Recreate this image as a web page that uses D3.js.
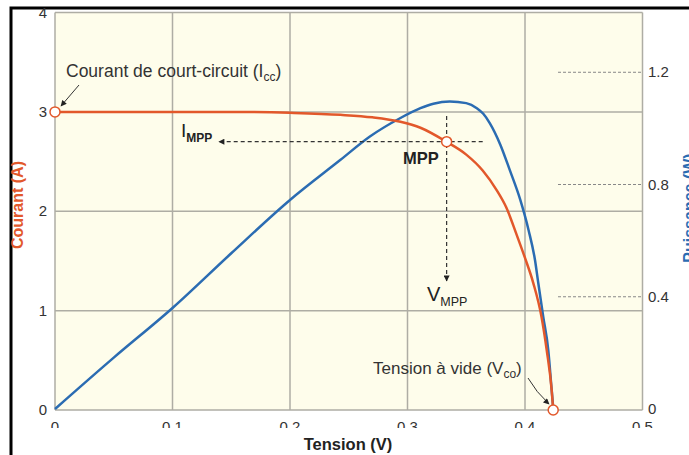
<!DOCTYPE html>
<html>
<head>
<meta charset="utf-8">
<script src="https://cdn.jsdelivr.net/npm/d3@7"></script>
<style>
  body { margin: 0; background: #fff; }
  text { font-family: "Liberation Sans", Arial, sans-serif; }
</style>
</head>
<body>
<script>
// courbe I-V
const courantV = [0, 0.05, 0.10, 0.15, 0.20, 0.243, 0.27, 0.294, 0.311, 0.333, 0.350, 0.364, 0.376, 0.384, 0.393, 0.400, 0.407, 0.414, 0.4185, 0.4227, 0.424];
const courantA = [3.0, 3.0, 3.0, 3.0, 2.99, 2.97, 2.945, 2.90, 2.84, 2.70, 2.57, 2.41, 2.21, 2.04, 1.76, 1.53, 1.28, 0.94, 0.60, 0.20, 0];

// courbe P-V
const puissanceV = [0, 0.05, 0.10, 0.15, 0.20, 0.243, 0.268, 0.294, 0.311, 0.322, 0.336, 0.350, 0.359, 0.3645, 0.370, 0.379, 0.387, 0.396, 0.403, 0.4085, 0.4113, 0.4155, 0.4198, 0.4227, 0.4241];
const puissanceW = [0, 0.183, 0.36, 0.555, 0.745, 0.888, 0.971, 1.037, 1.072, 1.088, 1.096, 1.090, 1.072, 1.052, 1.019, 0.942, 0.852, 0.745, 0.638, 0.531, 0.449, 0.329, 0.21, 0.068, 0];

// points remarquables
const pointIcc = [0, 3.0];
const pointMpp = [0.3333, 2.70];
const pointVco = [0.424, 0];

const xTicks = [0, 0.1, 0.2, 0.3, 0.4, 0.5];
const yTicks = [0, 1, 2, 3, 4];
const pTicks = [0, 0.4, 0.8, 1.2];

const W = 689, H = 455;
const orange = "#e2582b", bleu = "#2b6cb2", grille = "#aeada4";

const x = d3.scaleLinear().domain([0, 0.5]).range([55, 642.5]);
const y = d3.scaleLinear().domain([0, 4]).range([410, 12.5]);
const yP = d3.scaleLinear().domain([0, 1.413]).range([409, 12.5]);

const svg = d3.select("body").append("svg")
    .attr("width", W)
    .attr("height", H);

const defs = svg.append("defs");
defs.append("marker")
    .attr("id", "fleche")
    .attr("viewBox", "0 0 10 10")
    .attr("refX", 9).attr("refY", 5)
    .attr("markerWidth", 7).attr("markerHeight", 6)
    .attr("markerUnits", "userSpaceOnUse")
    .attr("orient", "auto")
  .append("path")
    .attr("d", "M0,0L10,5L0,10Z")
    .attr("fill", "#222");
defs.append("clipPath").attr("id", "coupe")
  .append("rect").attr("x", 0).attr("y", 0).attr("width", W).attr("height", 428);

// cadre noir
svg.append("path")
    .attr("d", `M11,${H}V8H${W}`)
    .attr("fill", "none")
    .attr("stroke", "#000")
    .attr("stroke-width", 3);

// fond de la zone de tracé
svg.append("rect")
    .attr("x", x(0)).attr("y", y(4))
    .attr("width", x(0.5) - x(0)).attr("height", y(0) - y(4))
    .attr("fill", "#fefdeb");

// grille
svg.append("g").selectAll("line").data(xTicks).join("line")
    .attr("x1", d => x(d)).attr("x2", d => x(d))
    .attr("y1", y(0)).attr("y2", y(4))
    .attr("stroke", grille).attr("stroke-width", 1.5);
svg.append("g").selectAll("line").data(yTicks).join("line")
    .attr("x1", x(0)).attr("x2", x(0.5))
    .attr("y1", d => y(d)).attr("y2", d => y(d))
    .attr("stroke", grille).attr("stroke-width", 1.5);

// axe gauche
svg.append("g").selectAll("text").data(yTicks).join("text")
    .attr("x", 47).attr("y", d => y(d) + 5)
    .attr("text-anchor", "end")
    .attr("font-size", 15).attr("fill", "#333")
    .text(d => d);

// axe du bas (étiquettes coupées en bas comme sur l'original)
svg.append("g").attr("clip-path", "url(#coupe)")
  .selectAll("text").data(xTicks).join("text")
    .attr("x", d => x(d)).attr("y", 432)
    .attr("text-anchor", "middle")
    .attr("font-size", 15).attr("fill", "#333")
    .text(d => d);

// axe droit
const gP = svg.append("g");
gP.selectAll("line").data(pTicks.filter(d => d > 0)).join("line")
    .attr("x1", 558).attr("x2", x(0.5))
    .attr("y1", d => yP(d)).attr("y2", d => yP(d))
    .attr("stroke", "#888").attr("stroke-width", 1)
    .attr("stroke-dasharray", "3,2");
gP.selectAll("text").data(pTicks).join("text")
    .attr("x", 648).attr("y", d => yP(d) + 5)
    .attr("font-size", 15).attr("fill", "#333")
    .text(d => d);

// titres des axes
svg.append("text")
    .attr("transform", "translate(23,205) rotate(-90)")
    .attr("text-anchor", "middle")
    .attr("font-size", 16).attr("font-weight", "bold")
    .attr("fill", orange)
    .text("Courant (A)");
svg.append("text")
    .attr("transform", "translate(695,208) rotate(-90)")
    .attr("text-anchor", "middle")
    .attr("font-size", 16).attr("font-weight", "bold")
    .attr("fill", bleu)
    .text("Puissance (W)");
svg.append("text")
    .attr("x", 348).attr("y", 450)
    .attr("text-anchor", "middle")
    .attr("font-size", 16.5).attr("font-weight", "bold")
    .attr("fill", "#222")
    .text("Tension (V)");

// courbes
const courbeI = d3.line()
    .x(d => x(d[0]))
    .y(d => y(d[1]))
    .curve(d3.curveMonotoneX);
const courbeP = d3.line()
    .x(d => x(d[0]))
    .y(d => yP(d[1]))
    .curve(d3.curveMonotoneX);

svg.append("path")
    .datum(d3.zip(puissanceV, puissanceW))
    .attr("d", courbeP)
    .attr("fill", "none").attr("stroke", bleu).attr("stroke-width", 2.5);
svg.append("path")
    .datum(d3.zip(courantV, courantA))
    .attr("d", courbeI)
    .attr("fill", "none").attr("stroke", orange).attr("stroke-width", 2.5);

// lignes pointillées du MPP
const gMpp = svg.append("g")
    .attr("fill", "none").attr("stroke", "#333")
    .attr("stroke-width", 1.2).attr("stroke-dasharray", "4,3");
gMpp.append("line")
    .attr("x1", x(0.364)).attr("x2", 219)
    .attr("y1", y(pointMpp[1])).attr("y2", y(pointMpp[1]))
    .attr("marker-end", "url(#fleche)");
gMpp.append("line")
    .attr("x1", x(pointMpp[0])).attr("x2", x(pointMpp[0]))
    .attr("y1", 116).attr("y2", 281)
    .attr("marker-end", "url(#fleche)");

// flèches des annotations
svg.append("line")
    .attr("x1", 79).attr("y1", 85).attr("x2", 61).attr("y2", 106)
    .attr("stroke", "#333").attr("stroke-width", 1)
    .attr("marker-end", "url(#fleche)");
svg.append("path")
    .attr("d", "M528,378Q536,392 549,404")
    .attr("fill", "none")
    .attr("stroke", "#333").attr("stroke-width", 1)
    .attr("marker-end", "url(#fleche)");

// points remarquables
svg.append("g").selectAll("circle").data([pointIcc, pointMpp, pointVco]).join("circle")
    .attr("cx", d => x(d[0])).attr("cy", d => y(d[1]))
    .attr("r", 5)
    .attr("fill", "#fff").attr("stroke", orange).attr("stroke-width", 1.5);

// textes
const t1 = svg.append("text")
    .attr("x", 66).attr("y", 77)
    .attr("font-size", 17.5).attr("fill", "#333");
t1.append("tspan").text("Courant de court-circuit (I");
t1.append("tspan").attr("font-size", 12).attr("dy", 4).text("cc");
t1.append("tspan").attr("dy", -4).text(")");

const t2 = svg.append("text")
    .attr("x", 181).attr("y", 137)
    .attr("font-size", 19).attr("fill", "#222");
t2.append("tspan").text("I");
t2.append("tspan").attr("font-size", 12).attr("font-weight", "bold").attr("dy", 5).text("MPP");

svg.append("text")
    .attr("x", 403).attr("y", 164)
    .attr("font-size", 16.5).attr("font-weight", "bold").attr("fill", "#222")
    .text("MPP");

const t3 = svg.append("text")
    .attr("x", 427).attr("y", 301)
    .attr("font-size", 20).attr("fill", "#222");
t3.append("tspan").text("V");
t3.append("tspan").attr("font-size", 12.5).attr("dy", 5).text("MPP");

const t4 = svg.append("text")
    .attr("x", 373).attr("y", 374)
    .attr("font-size", 17).attr("fill", "#333");
t4.append("tspan").text("Tension à vide (V");
t4.append("tspan").attr("font-size", 12).attr("dy", 4).text("co");
t4.append("tspan").attr("dy", -4).text(")");
</script>
</body>
</html>
